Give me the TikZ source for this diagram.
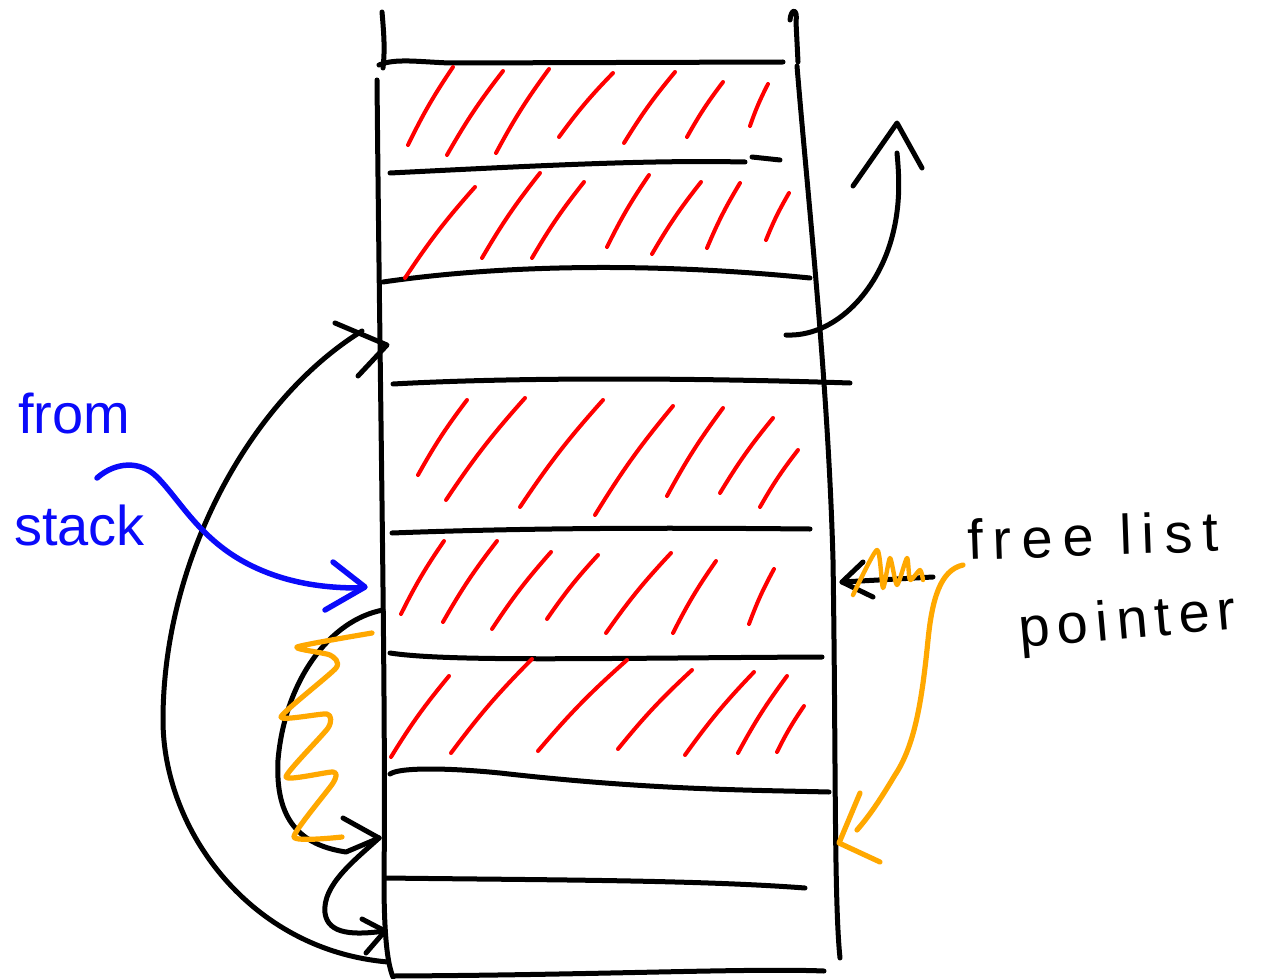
\documentclass[tikz,border=0pt]{standalone}
\usepackage{fontspec}
\setmainfont{Liberation Sans}
\newfontfamily\handA[LetterSpace=18]{Liberation Sans}
\newfontfamily\handB[LetterSpace=14]{Liberation Sans}
\newfontfamily\handC{Liberation Sans}
\definecolor{penred}{RGB}{255,0,0}
\definecolor{penblue}{RGB}{10,10,250}
\definecolor{penorange}{RGB}{255,168,0}
\newcommand{\hst}[4]{\draw[hatchln] (#1,#2) to[bend right=4] (#3,#4);}
\begin{document}
\begin{tikzpicture}[x=1pt,y=-1pt,
  ink/.style={line width=5pt, line cap=round, line join=round, black},
  hatchln/.style={line width=4pt, line cap=round, penred},
  bluepen/.style={line width=5.5pt, line cap=round, line join=round, penblue},
  orangepen/.style={line width=5.2pt, line cap=round, line join=round, penorange},
  lbl/.style={inner sep=0pt, anchor=base west}]
\useasboundingbox (0,0) rectangle (1279,979);
\fill[white] (0,0) rectangle (1279,979);

% ---- column outline ----
\draw[ink] (382,12) .. controls (384,35) and (385,50) .. (383,68);
\draw[ink] (377,80) .. controls (380,400) and (386,700) .. (384,880)
           .. controls (384,940) and (388,965) .. (393,977);
\draw[ink] (790,20) .. controls (791,8) and (798,8) .. (796,22) -- (798,62);
\draw[ink] (797,66) .. controls (808,200) and (828,380) .. (833,560)
           .. controls (836,760) and (834,900) .. (840,958);

% ---- cell separators ----
\draw[ink] (379,65) .. controls (395,58) and (420,62) .. (450,63) -- (783,62);
\draw[ink] (390,173) .. controls (550,165) and (650,160) .. (745,162);
\draw[ink] (752,157) -- (780,160);
\draw[ink] (383,282) .. controls (500,265) and (650,262) .. (810,278);
\draw[ink] (393,384) .. controls (520,377) and (700,378) .. (850,383);
\draw[ink] (392,533) .. controls (550,527) and (700,528) .. (810,529);
\draw[ink] (390,653) .. controls (450,662) and (600,658) .. (822,657);
\draw[ink] (390,774) .. controls (400,767) and (450,768) .. (500,773)
           .. controls (650,790) and (750,790) .. (829,792);
\draw[ink] (385,878) .. controls (550,880) and (700,880) .. (805,888);
\draw[ink] (393,976) .. controls (600,975) and (750,968) .. (824,971);

% ---- red hatching (used cells) ----
\hst{453}{67}{408}{145}
\hst{503}{71}{447}{155}
\hst{549}{69}{496}{153}
\hst{613}{73}{559}{137}
\hst{675}{72}{624}{143}
\hst{723}{82}{687}{137}
\hst{768}{84}{750}{126}

\hst{475}{187}{405}{278}
\hst{540}{173}{482}{258}
\hst{584}{182}{532}{258}
\hst{649}{175}{607}{247}
\hst{701}{182}{652}{254}
\hst{740}{183}{707}{248}
\hst{789}{193}{766}{240}

\hst{467}{400}{418}{475}
\hst{525}{398}{446}{500}
\hst{603}{400}{520}{507}
\hst{673}{406}{595}{515}
\hst{723}{408}{667}{496}
\hst{773}{418}{720}{493}
\hst{798}{450}{760}{507}

\hst{444}{541}{401}{614}
\hst{497}{541}{443}{622}
\hst{551}{552}{492}{629}
\hst{598}{555}{547}{619}
\hst{671}{553}{606}{633}
\hst{716}{561}{673}{633}
\hst{774}{569}{749}{624}

\hst{449}{676}{391}{757}
\hst{532}{659}{451}{753}
\hst{627}{660}{538}{751}
\hst{692}{670}{618}{749}
\hst{754}{672}{685}{755}
\hst{787}{676}{738}{753}
\hst{804}{706}{777}{752}

% ---- anchor points of the free-list links ----
\coordinate (c3out) at (786,335);
\coordinate (upTip) at (897,123);
\coordinate (c5L) at (383,610);
\coordinate (c7L) at (379,838);
\coordinate (c8L) at (385,931);
\coordinate (c8Lb) at (388,962);
\coordinate (c3L) at (387,345);

% ---- arrow out of cell 3 (upwards) ----
\draw[ink] (c3out) .. controls (830,337) and (870,300) .. (888,250)
           .. controls (902,210) and (899,175) .. (897,153);
\draw[ink] (853,186) -- (upTip) -- (922,168);

% ---- big arc from last cell to cell 3 ----
\draw[ink] (c8Lb) .. controls (250,950) and (163,830) .. (163,720)
           .. controls (163,560) and (250,400) .. (362,331);
\draw[ink] (335,323) -- (c3L) -- (358,376);

% ---- loop from cell 5 to cell 7 ----
\draw[ink] (c5L) .. controls (330,620) and (285,680) .. (278,760)
           .. controls (275,820) and (300,845) .. (346,852) -- (c7L);
\draw[ink] (343,818) -- (c7L);

% ---- loop from cell 7 to cell 8 ----
\draw[ink] (c7L) .. controls (355,860) and (322,885) .. (325,913)
           .. controls (328,935) and (355,935) .. (c8L);
\draw[ink] (362,919) -- (c8L) -- (366,953);

% ---- orange scribble over the cell 5 loop ----
\draw[orangepen] plot[smooth, tension=0.35] coordinates {(372,633) (297,647) (330,655) (336,668) (281,717) (327,714) (328,728) (286,777) (333,772) (333,783) (294,837) (342,837)};

% ---- old free list pointer (black) ----
\coordinate (fpTail) at (933,577);
\coordinate (fpTip) at (842,582);
\draw[ink] (fpTail) -- (fpTip);
\draw[ink] (863,562) -- (fpTip) -- (873,597);
\draw[orangepen, line width=4.4pt] plot[smooth, tension=0.4] coordinates {(853,595) (877,550) (883,588) (890,558) (897,585) (907,558) (910,580) (920,570) (923,580)};

% ---- new free list pointer (orange) ----
\coordinate (ofTail) at (963,565);
\coordinate (ofTip) at (839,843);
\draw[orangepen] (ofTail) .. controls (940,570) and (932,600) .. (928,640)
           .. controls (922,700) and (915,745) .. (895,775)
           .. controls (880,800) and (870,815) .. (857,830);
\draw[orangepen] (860,793) -- (ofTip) -- (880,862);

% ---- blue "from stack" arrow ----
\coordinate (bsTail) at (97,478);
\coordinate (bsTip) at (365,587);
\draw[bluepen] (bsTail) .. controls (115,462) and (140,460) .. (157,477)
           .. controls (180,500) and (200,540) .. (250,565)
           .. controls (290,585) and (330,588) .. (360,588);
\draw[bluepen] (333,562) -- (bsTip) -- (325,610);

% ---- labels ----
\node[lbl, text=penblue, font=\handC\fontsize{56}{60}\selectfont] (from) at (18,433) {from};
\node[lbl, text=penblue, font=\handC\fontsize{56}{60}\selectfont] (stack) at (14,545) {stack};
\node[lbl, font=\handA\fontsize{56}{60}\selectfont, rotate=2] (freelist) at (968,560) {free list};
\node[lbl, font=\handB\fontsize{56}{60}\selectfont, rotate=5] (pointer) at (1020,648) {pointer};
\end{tikzpicture}
\end{document}
